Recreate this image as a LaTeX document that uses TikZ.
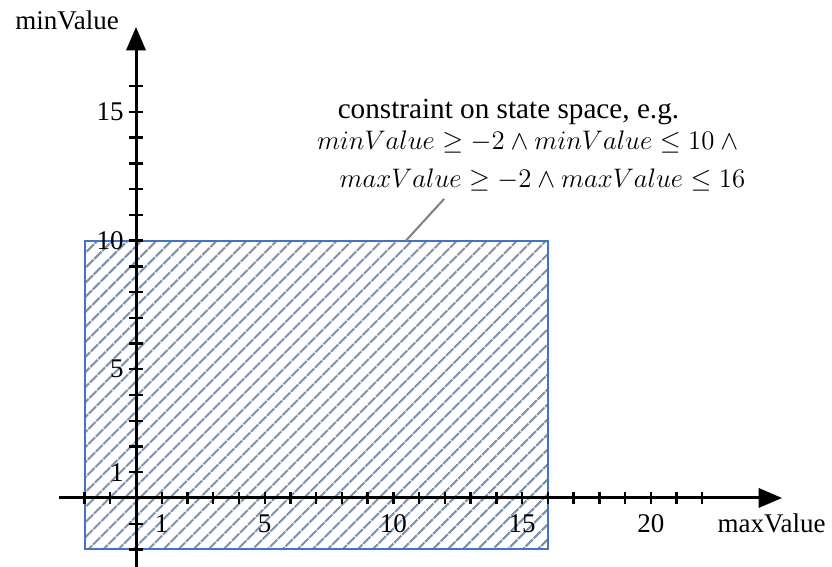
\RequirePackage{fix-cm}
\documentclass[tikz,border=0pt]{standalone}
\usepackage{fontspec}
\setmainfont{Liberation Serif}
\usetikzlibrary{arrows.meta,patterns.meta}
\definecolor{rectblue}{RGB}{68,114,196}
\definecolor{hatchgray}{RGB}{125,146,172}
\definecolor{leadgray}{RGB}{128,128,128}
\tikzset{
  axis/.style={line width=1.5pt,-{Triangle[length=11.75pt,width=9.6pt]}},
  axtick/.style={line width=1.2pt},
  ticklabel/.style={font=\fontsize{13.5}{16}\selectfont,inner sep=0pt},
  axlabel/.style={font=\fontsize{13.5}{16}\selectfont,inner sep=0pt,anchor=base},
  note/.style={inner sep=0pt,anchor=base},
  mathnote/.style={note,font=\fontsize{13.4}{16}\selectfont},
  statebox/.style={draw=rectblue,line width=1pt,pattern={Lines[angle=45,distance=5.4pt,line width=1.2pt]},pattern color=hatchgray},
  leader/.style={draw=leadgray,line width=1pt}
}
\begin{document}
\begin{tikzpicture}[x=12.87pt,y=12.87pt]
  \useasboundingbox (-5.284,-2.681) rectangle (27.04,19.347);
  \draw[statebox] (-2,-2) rectangle (16,10);
  \coordinate (xstart) at (-3,0);
  \coordinate (xend) at (25.1,0);
  \coordinate (ystart) at (0,-2.7);
  \coordinate (yend) at (0,18.3);
  \draw[axis] (xstart) -- (xend);
  \draw[axis] (ystart) -- (yend);
  \foreach \i in {-2,...,22} \draw[axtick] (\i,-0.25) -- (\i,0.25);
  \foreach \i in {-2,...,16} \draw[axtick] (-0.27,\i) -- (0.27,\i);
  \foreach \i in {1,5,10,15,20} \node[ticklabel] (xl\i) at (\i,-1) {\i};
  \foreach \i in {1,5,10,15} \node[ticklabel,anchor=east] (yl\i) at (-0.47,\i) {\i};
  \node[axlabel] (ylabel) at (-2.68,18.22) {minValue};
  \node[axlabel] (xlabel) at (24.69,-1.36) {maxValue};
  \node[note,font=\fontsize{14.6}{17}\selectfont] (note1) at (14.47,14.76) {constraint on state space, e.g.};
  \node[mathnote] (note2) at (15.33,13.52) {$minValue \geq -2 \wedge minValue \leq 10 \wedge {}$};
  \node[mathnote] (note3) at (15.79,12.08) {$maxValue \geq -2 \wedge maxValue \leq 16$};
  \coordinate (leadstart) at (11.97,11.62);
  \coordinate (boxtop) at (10.49,10);
  \draw[leader] (leadstart) -- (boxtop);
\end{tikzpicture}
\end{document}
